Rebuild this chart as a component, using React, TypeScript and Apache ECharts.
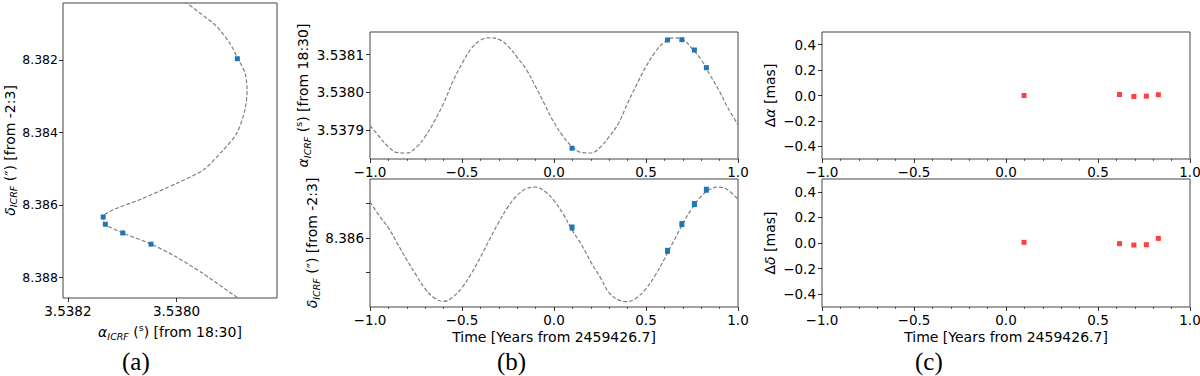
import React, { useEffect, useRef } from 'react';
import * as echarts from 'echarts';

// ---- Panel (a): sky track (alpha vs delta) ----
const trackAlpha = [3.537994, 3.537957, 3.537926, 3.537902, 3.537887, 3.537874, 3.53787, 3.537874, 3.537889, 3.537914, 3.537951, 3.538, 3.538062, 3.538135, 3.538131, 3.538099, 3.538047, 3.538, 3.537951, 3.537876];
const trackDelta = [8.380287, 8.38071, 8.38108, 8.381539, 8.381964, 8.382359, 8.382829, 8.383381, 8.384025, 8.384486, 8.385039, 8.385406, 8.38582, 8.386329, 8.38653, 8.386771, 8.387075, 8.387434, 8.387892, 8.38868];
const skyObsAlpha = [3.537888, 3.538135, 3.538131, 3.538099, 3.538047];
const skyObsDelta = [8.38197, 8.38633, 8.38653, 8.38677, 8.38708];

// ---- Panel (b): model vs time ----
const modelTime = [-1.0, -0.95, -0.9, -0.85, -0.8, -0.75, -0.7, -0.65, -0.6, -0.55, -0.5, -0.45, -0.4, -0.35, -0.3, -0.25, -0.2, -0.15, -0.1, -0.05, 0.0, 0.05, 0.1, 0.15, 0.2, 0.25, 0.3, 0.35, 0.4, 0.45, 0.5, 0.55, 0.6, 0.65, 0.7, 0.75, 0.8, 0.85, 0.9, 0.95, 1.0];
const modelAlpha = [3.5379122, 3.5378831, 3.5378558, 3.5378405, 3.5378394, 3.537854, 3.5378831, 3.5379238, 3.5379714, 3.5380286, 3.5380762, 3.5381159, 3.5381384, 3.5381447, 3.5381405, 3.5381228, 3.5380931, 3.5380603, 3.5380153, 3.5379677, 3.5379201, 3.5378831, 3.5378558, 3.5378405, 3.5378394, 3.537854, 3.5378831, 3.5379175, 3.5379714, 3.5380214, 3.5380683, 3.5381069, 3.5381333, 3.5381447, 3.5381405, 3.5381159, 3.5380868, 3.5380444, 3.5380021, 3.5379545, 3.5379148];
const modelDelta = [8.3865246, 8.3863246, 8.3861493, 8.3859174, 8.3856855, 8.3854681, 8.3852652, 8.3851348, 8.385084, 8.3851493, 8.3852869, 8.3854855, 8.3857232, 8.3859812, 8.3862319, 8.3864507, 8.3866189, 8.3867174, 8.3867362, 8.3866768, 8.386542, 8.3863464, 8.3861087, 8.3859029, 8.3856565, 8.3854391, 8.3852087, 8.3851072, 8.3850826, 8.3851391, 8.3852696, 8.3854623, 8.3856985, 8.3859551, 8.3862072, 8.3864304, 8.3866044, 8.3867102, 8.3867377, 8.3866855, 8.3865594];
const obsTime = [0.098, 0.617, 0.695, 0.763, 0.828];
const obsAlpha = [3.5378521, 3.5381389, 3.5381397, 3.5381124, 3.5380656];
const obsDelta = [8.3861536, 8.3858159, 8.3862029, 8.3864928, 8.3867];

// ---- Panel (c): residuals ----
const resAlpha = [0.0, 0.008, -0.008, -0.005, 0.006];
const resDelta = [0.005, -0.005, -0.016, -0.013, 0.036];

const resTicks = [-0.4, -0.2, 0.0, 0.2, 0.4];

const FONT = 'DejaVu Sans';
const BLUE = '#1f77b4';
const RED = '#ff4040';
const CURVE = '#808080';
const TICK_FS = 13.5;
const NAME_FS = 14;

const fmtSigned = (d: number) => (v: number) => (v < -1e-9 ? '\u2212' : '') + Math.abs(v).toFixed(d);

const labelStyle = (extra: any = {}) => ({ color: '#000', fontSize: TICK_FS, fontFamily: FONT, margin: 6, ...extra });
const tickStyle = (extra: any = {}) => ({ show: true, inside: false, length: 4, lineStyle: { color: '#000', width: 0.8 }, ...extra });
const minor = { show: true, splitNumber: 5, length: 2, lineStyle: { color: '#000', width: 0.6 } };
const noLine = { show: false, onZero: false };

const makeRich = (lh: number) => ({
  i: { fontStyle: 'italic', fontSize: NAME_FS, fontFamily: FONT, color: '#000', lineHeight: lh },
  s: { fontStyle: 'italic', fontSize: 9.5, fontFamily: FONT, color: '#000', lineHeight: 12, verticalAlign: 'bottom' },
  p: { fontSize: 9.5, fontFamily: FONT, color: '#000', lineHeight: 12, verticalAlign: 'top' },
  n: { fontSize: NAME_FS, fontFamily: FONT, color: '#000', lineHeight: lh },
});
const nameStyle = { color: '#000', fontSize: NAME_FS, fontFamily: FONT, lineHeight: 19, rich: makeRich(19) };
const nameStyleTight = { color: '#000', fontSize: NAME_FS, fontFamily: FONT, lineHeight: 16, rich: makeRich(16) };

const alphaName = '{i|α}{s|ICRF}{n| (}{p|s}{n|) [from 18:30]}';
const deltaName = '{i|δ}{s|ICRF}{n| (″) [from -2:3]}';

const gridBase = { show: true, borderColor: '#444', borderWidth: 1, backgroundColor: 'transparent', outerBoundsMode: 'none', containLabel: false };

const timeAxis = (gridIndex: number, withName: boolean) => ({
  type: 'value', gridIndex, min: -1, max: 1, interval: 0.5,
  axisLine: noLine, splitLine: { show: false },
  axisTick: tickStyle(), minorTick: minor, minorSplitLine: { show: false },
  axisLabel: labelStyle({ formatter: fmtSigned(1) }),
  name: withName ? 'Time [Years from 2459426.7]' : '', nameLocation: 'middle', nameGap: 16, nameTextStyle: nameStyle,
});

const resAxis = (gridIndex: number, name: string) => ({
  type: 'value', gridIndex, min: -0.5, max: 0.5,
  axisLine: noLine, splitLine: { show: false },
  axisTick: tickStyle({ customValues: resTicks }),
  axisLabel: labelStyle({ customValues: resTicks, formatter: fmtSigned(1) }),
  name, nameLocation: 'middle', nameRotate: 90, nameGap: 34, nameTextStyle: nameStyle,
});

export default function App() {
  const ref = useRef<HTMLDivElement>(null);
  useEffect(() => {
    if (!ref.current) return;
    const chart = echarts.init(ref.current, undefined, { renderer: 'svg' });
    const trackData = trackAlpha.map((a, i) => [a, trackDelta[i]]);
    const skyData = skyObsAlpha.map((a, i) => [a, skyObsDelta[i]]);
    const alphaCurve = modelTime.map((t, i) => [t, modelAlpha[i]]);
    const deltaCurve = modelTime.map((t, i) => [t, modelDelta[i]]);
    const alphaObs = obsTime.map((t, i) => [t, obsAlpha[i]]);
    const deltaObs = obsTime.map((t, i) => [t, obsDelta[i]]);
    const resA = obsTime.map((t, i) => [t, resAlpha[i]]);
    const resD = obsTime.map((t, i) => [t, resDelta[i]]);

    const lineSeries = (xi: number, data: any[], smooth: number) => ({
      type: 'line', xAxisIndex: xi, yAxisIndex: xi, data, showSymbol: false, symbol: 'none', smooth,
      lineStyle: { color: CURVE, width: 1.2, type: [4, 2] }, z: 2, silent: true,
    });
    const pointSeries = (xi: number, data: any[], color: string, size: any) => ({
      type: 'scatter', xAxisIndex: xi, yAxisIndex: xi, data, symbol: 'rect', symbolSize: size,
      itemStyle: { color, opacity: 1 }, z: 3, silent: true,
    });
    const serifText = (left: number, text: string) => ({
      type: 'text', left, top: 349, style: { text, fontSize: 25, fontFamily: 'Liberation Serif', fill: '#000' },
    });

    chart.setOption({
      animation: false,
      backgroundColor: '#fff',
      grid: [
        { ...gridBase, left: 63, top: 3, width: 214, height: 295 },
        { ...gridBase, left: 370, top: 32, width: 368, height: 127 },
        { ...gridBase, left: 370, top: 179, width: 368, height: 128 },
        { ...gridBase, left: 822, top: 32, width: 368, height: 127 },
        { ...gridBase, left: 822, top: 179, width: 368, height: 128 },
      ],
      xAxis: [
        {
          type: 'value', gridIndex: 0, inverse: true, min: 3.537815, max: 3.538209,
          axisLine: noLine, splitLine: { show: false },
          axisTick: tickStyle({ customValues: [3.5382, 3.538] }),
          axisLabel: labelStyle({ customValues: [3.5382, 3.538], formatter: (v: number) => v.toFixed(4) }),
          name: alphaName, nameLocation: 'middle', nameGap: 19, nameTextStyle: nameStyle,
        },
        timeAxis(1, false),
        timeAxis(2, true),
        timeAxis(3, false),
        timeAxis(4, true),
      ],
      yAxis: [
        {
          type: 'value', gridIndex: 0, inverse: true, min: 8.380434, max: 8.388563,
          axisLine: noLine, splitLine: { show: false },
          axisTick: tickStyle({ customValues: [8.382, 8.384, 8.386, 8.388] }),
          axisLabel: labelStyle({ customValues: [8.382, 8.384, 8.386, 8.388], fontSize: 12.5, margin: 5, formatter: (v: number) => v.toFixed(3) }),
          name: deltaName, nameLocation: 'middle', nameRotate: 90, nameGap: 43, nameTextStyle: nameStyleTight,
        },
        {
          type: 'value', gridIndex: 1, min: 3.5378235, max: 3.5381601,
          axisLine: noLine, splitLine: { show: false },
          axisTick: tickStyle({ customValues: [3.5379, 3.538, 3.5381] }),
          axisLabel: labelStyle({ customValues: [3.5379, 3.538, 3.5381], formatter: (v: number) => v.toFixed(4) }),
          name: alphaName, nameLocation: 'middle', nameRotate: 90, nameGap: 48, nameTextStyle: nameStyle,
        },
        {
          type: 'value', gridIndex: 2, min: 8.385004, max: 8.386855,
          axisLine: noLine, splitLine: { show: false },
          axisTick: tickStyle({ customValues: [8.3855, 8.386, 8.3865] }),
          axisLabel: labelStyle({ customValues: [8.386], formatter: (v: number) => v.toFixed(3) }),
          name: deltaName, nameLocation: 'middle', nameRotate: 90, nameGap: 48, nameTextStyle: nameStyle,
        },
        resAxis(3, 'Δ{i|α}{n| [mas]}'),
        resAxis(4, 'Δ{i|δ}{n| [mas]}'),
      ],
      series: [
        lineSeries(0, trackData, 0.25),
        pointSeries(0, skyData, BLUE, 5),
        lineSeries(1, alphaCurve, 0.4),
        pointSeries(1, alphaObs, BLUE, 5),
        lineSeries(2, deltaCurve, 0.4),
        pointSeries(2, deltaObs, BLUE, [5, 6]),
        pointSeries(3, resA, RED, 5),
        pointSeries(4, resD, RED, 5),
      ],
      graphic: [serifText(122, '(a)'), serifText(497, '(b)'), serifText(915, '(c)')],
    });
    return () => chart.dispose();
  }, []);
  return (
    <div
      ref={ref}
      style={{ position: 'fixed', left: 0, top: 0, width: 1200, height: 376, background: '#fff' }}
    />
  );
}
